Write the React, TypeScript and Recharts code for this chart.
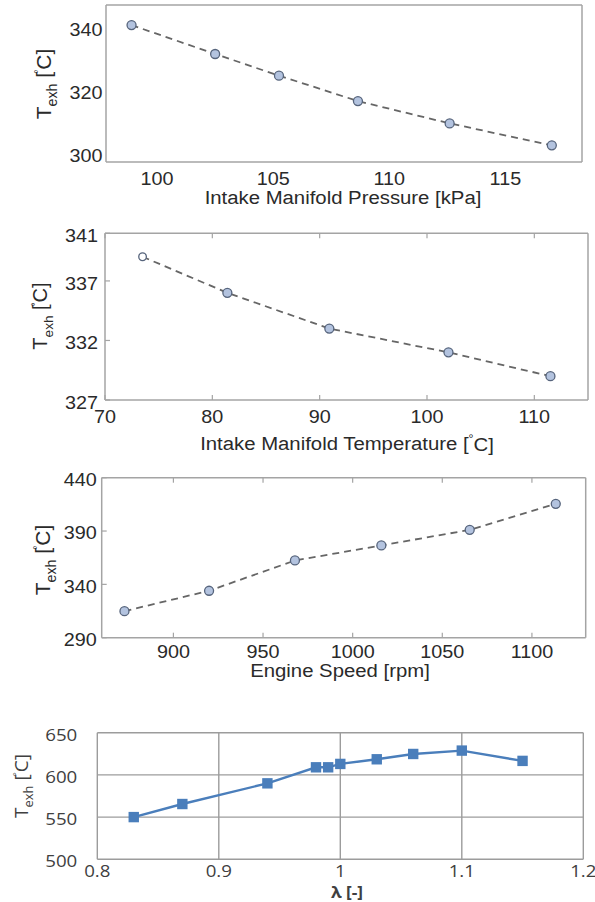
import React from 'react'
import { LineChart, Line, XAxis, YAxis, CartesianGrid } from 'recharts'

// panel 1: intake manifold pressure sweep
const mapKpa = [98.9, 102.5, 105.25, 108.65, 112.6, 117.0]
const mapTexh = [341.6, 332.4, 325.5, 317.4, 310.3, 303.3]
const mapXTicks = [100, 105, 110, 115]
const mapYTicks = [300, 320, 340]

// panel 2: intake manifold temperature sweep
const matDegC = [73.5, 81.4, 90.9, 102.0, 111.5]
const matTexh = [339.03, 336.0, 333.0, 331.0, 329.0]
const matXTicks = [70, 80, 90, 100, 110]
const matYTicks = [327, 332, 337, 341]

// panel 3: engine speed sweep
const speedRpm = [872.7, 919.9, 967.8, 1016.0, 1065.3, 1113.3]
const speedTexh = [314.9, 334.0, 362.4, 376.5, 391.1, 415.5]
const speedXTicks = [900, 950, 1000, 1050, 1100]
const speedYTicks = [290, 340, 390, 440]

// panel 4: lambda sweep
const lambda = [0.83, 0.87, 0.94, 0.98, 0.99, 1.0, 1.03, 1.06, 1.1, 1.15]
const lambdaTexh = [550, 565.5, 590, 609, 609, 613, 618.5, 624.8, 628.8, 616.6]
const lambdaXTicks = [0.8, 0.9, 1, 1.1, 1.2]
const lambdaYTicks = [500, 550, 600, 650]

const W = 595
const BOX = '#a4a4a4'
const INK = '#2a2a2a'
const ML = { family: '"Liberation Sans", Arial, sans-serif', size: 18, sx: 1.1, color: INK }
const XL = { family: '"Open Sans", sans-serif', size: 17, sx: 1.1, color: '#404040' }

type Font = typeof ML

const label = (x: number, y: number, text: string, font: Font, anchor: 'start' | 'middle' | 'end') => (
  <text
    transform={`translate(${x},${y}) scale(${font.sx},1)`}
    textAnchor={anchor}
    dominantBaseline="central"
    fontFamily={font.family}
    fontSize={font.size}
    fill={font.color}
  >
    {text}
  </text>
)

const bottomTick = (gap: number, len: number, font: Font) => (p: any) => (
  <g>
    {len > 0 && <line x1={p.x} x2={p.x} y1={p.y - gap} y2={p.y - gap - len} stroke={BOX} strokeWidth={1.2} />}
    {label(p.x, p.y, String(p.payload.value), font, 'middle')}
  </g>
)

const leftTick = (gap: number, len: number, dy: number, font: Font) => (p: any) => (
  <g>
    {len > 0 && <line x1={p.x + gap} x2={p.x + gap + len} y1={p.y} y2={p.y} stroke={BOX} strokeWidth={1.2} />}
    {label(p.x, p.y + dy, String(p.payload.value), font, 'end')}
  </g>
)

const topTick = (len: number) => (p: any) =>
  len > 0 ? <line x1={p.x} x2={p.x} y1={p.y} y2={p.y + len} stroke={BOX} strokeWidth={1.2} /> : <g />

const rightTick = (len: number) => (p: any) =>
  len > 0 ? <line x1={p.x} x2={p.x - len} y1={p.y} y2={p.y} stroke={BOX} strokeWidth={1.2} /> : <g />

type PanelProps = {
  top: number
  height: number
  xs: number[]
  ys: number[]
  xDomain: [number, number]
  yDomain: [number, number]
  xTicks: number[]
  yTicks: number[]
  plot: { left: number; right: number; top: number; bottom: number }
  xGap: number
  yGap: number
  yDy: number
  tickLen: number
  hollowFirst?: boolean
}

function MatlabPanel(props: PanelProps) {
  const { top, height, xs, ys, plot, tickLen } = props
  const data = xs.map((x, i) => ({ x, y: ys[i] }))
  const relTop = plot.top - top
  const relBottom = plot.bottom - top
  return (
    <div style={{ position: 'absolute', left: 0, top }}>
      <LineChart
        width={W}
        height={height}
        data={data}
        margin={{ top: relTop - 1, right: W - plot.right - 1, bottom: 0, left: 0 }}
      >
        <XAxis
          xAxisId="b"
          type="number"
          dataKey="x"
          domain={props.xDomain}
          ticks={props.xTicks}
          interval={0}
          height={height - relBottom}
          tickSize={0}
          tickMargin={props.xGap}
          tickLine={false}
          axisLine={{ stroke: BOX, strokeWidth: 1.5 }}
          tick={bottomTick(props.xGap, tickLen, ML)}
        />
        <XAxis
          xAxisId="t"
          orientation="top"
          type="number"
          dataKey="x"
          domain={props.xDomain}
          ticks={props.xTicks}
          interval={0}
          height={1}
          tickSize={0}
          tickMargin={0}
          tickLine={false}
          axisLine={{ stroke: BOX, strokeWidth: 1.5 }}
          tick={topTick(tickLen)}
        />
        <YAxis
          yAxisId="l"
          type="number"
          domain={props.yDomain}
          ticks={props.yTicks}
          interval={0}
          width={plot.left}
          tickSize={0}
          tickMargin={props.yGap}
          tickLine={false}
          axisLine={{ stroke: BOX, strokeWidth: 1.5 }}
          tick={leftTick(props.yGap, tickLen, props.yDy, ML)}
        />
        <YAxis
          yAxisId="r"
          orientation="right"
          type="number"
          domain={props.yDomain}
          ticks={props.yTicks}
          interval={0}
          width={1}
          tickSize={0}
          tickMargin={0}
          tickLine={false}
          axisLine={{ stroke: BOX, strokeWidth: 1.5 }}
          tick={rightTick(tickLen)}
        />
        <Line
          xAxisId="b"
          yAxisId="l"
          type="linear"
          dataKey="y"
          stroke="#666"
          strokeWidth={1.8}
          strokeDasharray="7 5"
          isAnimationActive={false}
          dot={(d: any) => (
            <circle
              key={d.index}
              cx={d.cx}
              cy={d.cy}
              r={props.hollowFirst && d.index === 0 ? 3.8 : 4.5}
              fill={props.hollowFirst && d.index === 0 ? '#fff' : '#b3c3df'}
              stroke="#56647c"
              strokeWidth={1.3}
            />
          )}
        />
      </LineChart>
    </div>
  )
}

function YTitle({ x, y, size, family, color }: { x: number; y: number; size: number; family: string; color: string }) {
  return (
    <text
      transform={`translate(${x},${y}) rotate(-90)`}
      textAnchor="middle"
      fontFamily={family}
      fontSize={size}
      fill={color}
    >
      T
      <tspan dy={size * 0.28} fontSize={size * 0.68}>exh</tspan>
      <tspan dy={-size * 0.28}> [</tspan>
      <tspan dy={-size * 0.42} dx={-2} fontSize={size * 0.5}>°</tspan>
      <tspan dy={size * 0.42}>C]</tspan>
    </text>
  )
}

export default function App() {
  const lambdaData = lambda.map((x, i) => ({ x, y: lambdaTexh[i] }))
  const p4 = { left: 97.3, right: 583.3, top: 732.7, bottom: 859.3 }
  return (
    <div style={{ position: 'relative', width: W, height: 902, background: '#fff', overflow: 'hidden' }}>
      <style>{'body{margin:0}'}</style>
      <MatlabPanel
        top={0}
        height={215}
        xs={mapKpa}
        ys={mapTexh}
        xDomain={[97.8, 118.3]}
        yDomain={[298, 348]}
        xTicks={mapXTicks}
        yTicks={mapYTicks}
        plot={{ left: 106, right: 582, top: 5, bottom: 162 }}
        xGap={16.5}
        yGap={3.5}
        yDy={0}
        tickLen={0}
      />
      <MatlabPanel
        top={215}
        height={235}
        xs={matDegC}
        ys={matTexh}
        xDomain={[70, 115]}
        yDomain={[327, 341]}
        xTicks={matXTicks}
        yTicks={matYTicks}
        plot={{ left: 105, right: 588, top: 233.3, bottom: 400 }}
        xGap={17}
        yGap={7}
        yDy={2.5}
        tickLen={5}
        hollowFirst
      />
      <MatlabPanel
        top={450}
        height={250}
        xs={speedRpm}
        ys={speedTexh}
        xDomain={[860, 1130]}
        yDomain={[290, 440]}
        xTicks={speedXTicks}
        yTicks={speedYTicks}
        plot={{ left: 101.7, right: 585.7, top: 477.7, bottom: 637.7 }}
        xGap={14.5}
        yGap={5}
        yDy={2}
        tickLen={5}
      />
      <div style={{ position: 'absolute', left: 0, top: 700 }}>
        <LineChart
          width={W}
          height={202}
          data={lambdaData}
          margin={{ top: p4.top - 700, right: W - p4.right, bottom: 0, left: 0 }}
        >
          <CartesianGrid stroke="#9c9c9c" strokeWidth={1.4} />
          <XAxis
            type="number"
            dataKey="x"
            domain={[0.8, 1.2]}
            ticks={lambdaXTicks}
            interval={0}
            height={902 - p4.bottom}
            tickSize={0}
            tickMargin={11.5}
            tickLine={false}
            axisLine={false}
            tick={bottomTick(11.5, 0, XL)}
          />
          <YAxis
            type="number"
            domain={[500, 650]}
            ticks={lambdaYTicks}
            interval={0}
            width={p4.left}
            tickSize={0}
            tickMargin={20}
            tickLine={false}
            axisLine={false}
            tick={leftTick(20, 0, 1.5, XL)}
          />
          <Line
            type="linear"
            dataKey="y"
            stroke="#4a7ebb"
            strokeWidth={2.4}
            isAnimationActive={false}
            dot={(d: any) => (
              <rect key={d.index} x={d.cx - 5.2} y={d.cy - 5.2} width={10.4} height={10.4} fill="#4a7ebb" />
            )}
          />
        </LineChart>
      </div>
      <svg width={W} height={902} style={{ position: 'absolute', left: 0, top: 0, pointerEvents: 'none' }}>
        <YTitle x={51} y={84} size={21} family={ML.family} color={INK} />
        <YTitle x={47} y={316} size={20} family={ML.family} color={INK} />
        <YTitle x={50} y={560} size={21} family={ML.family} color={INK} />
        <YTitle x={28} y={786} size={19} family={XL.family} color="#404040" />
        <g transform="translate(343,198) scale(1.13,1)">
          <text textAnchor="middle" dominantBaseline="central" fontFamily={ML.family} fontSize={18} fill={INK}>
            Intake Manifold Pressure [kPa]
          </text>
        </g>
        <g transform="translate(347,444) scale(1.13,1)">
          <text textAnchor="middle" dominantBaseline="central" fontFamily={ML.family} fontSize={18} fill={INK}>
            Intake Manifold Temperature [<tspan dy={-7} fontSize={11}>°</tspan>
            <tspan dy={7}>C]</tspan>
          </text>
        </g>
        <g transform="translate(340,671) scale(1.13,1)">
          <text textAnchor="middle" dominantBaseline="central" fontFamily={ML.family} fontSize={18} fill={INK}>
            Engine Speed [rpm]
          </text>
        </g>
        <g transform="translate(347,892) scale(1.12,1)">
          <text textAnchor="middle" dominantBaseline="central" fontFamily={XL.family} fontSize={15.5} fontWeight="bold" fill="#404040">
            λ [-]
          </text>
        </g>
      </svg>
    </div>
  )
}
